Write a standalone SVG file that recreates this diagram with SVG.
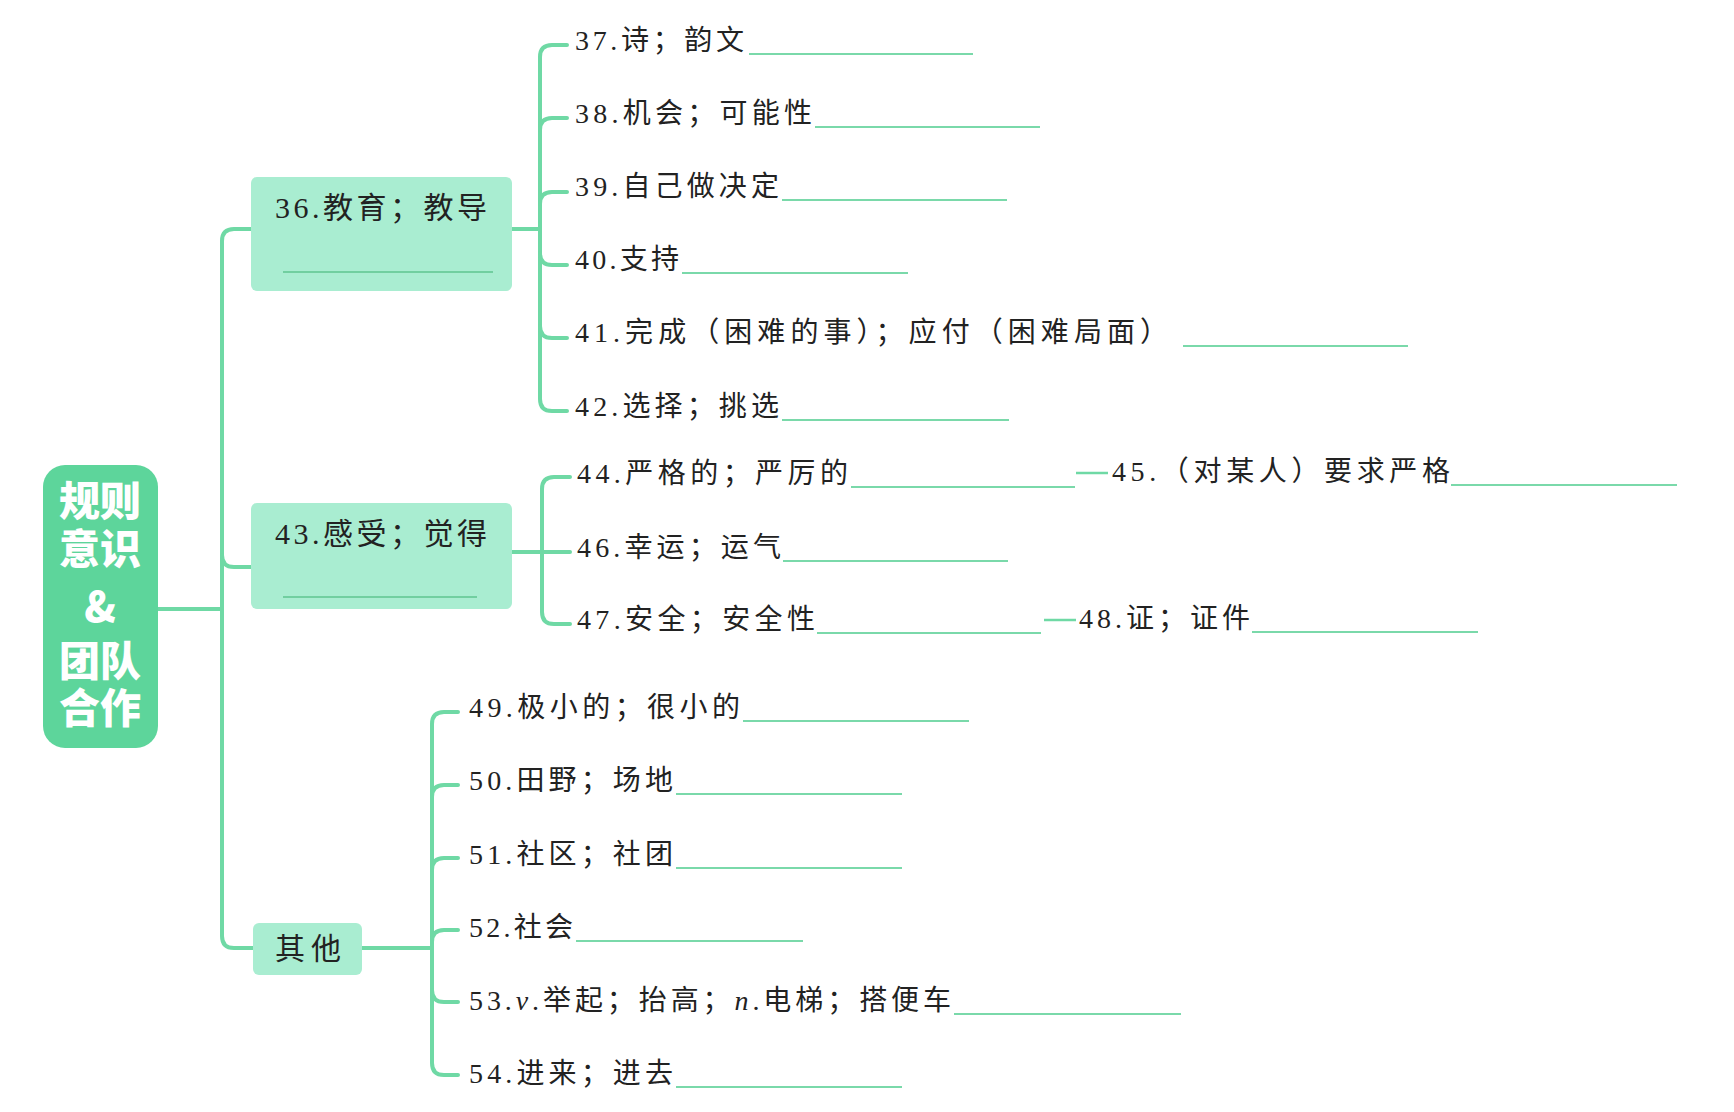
<svg xmlns="http://www.w3.org/2000/svg" width="1734" height="1112" viewBox="0 0 1734 1112">
<style>
.bg{fill:#ffffff}
.line{fill:none;stroke:#6fd9a5;stroke-width:4;stroke-linecap:round}
.dash{fill:none;stroke:#6fd9a5;stroke-width:2.5}
.ul{fill:none;stroke:#7ad9aa;stroke-width:2}
.bul{fill:none;stroke:#5fc48f;stroke-width:1.5}
.box{fill:#a9edd1}
.root{fill:#5dd59b}
.t{font-family:"Liberation Serif","Noto Sans CJK SC",serif;font-size:28px;fill:#222222}
.bt{font-family:"Liberation Serif","Noto Sans CJK SC",serif;font-size:30px;fill:#222222}
.rt{font-family:"Noto Sans CJK SC","Noto Sans",sans-serif;font-size:41px;font-weight:900;fill:#ffffff;text-anchor:middle}
.i{font-style:italic}
</style>
<rect class="bg" x="0" y="0" width="1734" height="1112"/>

<g id="connectors">
  <path class="line" d="M158 609 H222"/>
  <path class="line" d="M251 229 H234 Q222 229 222 241 V936 Q222 948 234 948 H253"/>
  <path class="line" d="M222 555 Q222 567 234 567 H251"/>
  <path class="line" d="M511 229 H540"/>
  <path class="line" d="M567 45 H552 Q540 45 540 57 V399 Q540 411 552 411 H567"/>
  <path class="line" d="M540 130 Q540 118 552 118 H567"/>
  <path class="line" d="M540 204 Q540 192 552 192 H567"/>
  <path class="line" d="M540 253 Q540 265 552 265 H567"/>
  <path class="line" d="M540 326 Q540 338 552 338 H567"/>
  <path class="line" d="M512 552 H570"/>
  <path class="line" d="M570 477 H554 Q542 477 542 489 V612 Q542 624 554 624 H570"/>
  <path class="dash" d="M1076 473 H1108"/>
  <path class="dash" d="M1044 620 H1076"/>
  <path class="line" d="M362 948 H432"/>
  <path class="line" d="M458 712 H444 Q432 712 432 724 V1063 Q432 1075 444 1075 H458"/>
  <path class="line" d="M432 797 Q432 785 444 785 H458"/>
  <path class="line" d="M432 870 Q432 858 444 858 H458"/>
  <path class="line" d="M432 942 Q432 930 444 930 H458"/>
  <path class="line" d="M432 990 Q432 1002 444 1002 H458"/>
</g>

<g id="root">
  <rect class="root" x="43" y="465" width="115" height="283" rx="22"/>
  <text class="rt"><tspan x="100" y="516">规则</tspan><tspan x="100" y="564">意识</tspan><tspan x="100" y="622">&amp;</tspan><tspan x="100" y="676">团队</tspan><tspan x="100" y="723">合作</tspan></text>
</g>

<g id="n36">
  <rect class="box" x="251" y="177" width="261" height="114" rx="6"/>
  <text class="bt" x="275" y="218" textLength="212" lengthAdjust="spacing">36.教育；教导</text>
  <path class="bul" d="M283 272 H493"/>
</g>
<g id="n43">
  <rect class="box" x="251" y="503" width="261" height="106" rx="6"/>
  <text class="bt" x="275" y="544" textLength="212" lengthAdjust="spacing">43.感受；觉得</text>
  <path class="bul" d="M283 597 H477"/>
</g>
<g id="nother">
  <rect class="box" x="253" y="923" width="109" height="52" rx="6"/>
  <text class="bt" x="275" y="959" textLength="66" lengthAdjust="spacing">其他</text>
</g>

<g id="n37"><text class="t" x="575" y="50" textLength="169" lengthAdjust="spacing">37.诗；韵文</text><path class="ul" d="M749 54 H973"/></g>
<g id="n38"><text class="t" x="575" y="123" textLength="237" lengthAdjust="spacing">38.机会；可能性</text><path class="ul" d="M815 127 H1040"/></g>
<g id="n39"><text class="t" x="575" y="196" textLength="204" lengthAdjust="spacing">39.自己做决定</text><path class="ul" d="M782 200 H1007"/></g>
<g id="n40"><text class="t" x="575" y="269" textLength="104" lengthAdjust="spacing">40.支持</text><path class="ul" d="M682 273 H908"/></g>
<g id="n41"><text class="t" x="575" y="342" textLength="593" lengthAdjust="spacing">41.完成（困难的事）；应付（困难局面）</text><path class="ul" d="M1183 346 H1408"/></g>
<g id="n42"><text class="t" x="575" y="416" textLength="204" lengthAdjust="spacing">42.选择；挑选</text><path class="ul" d="M782 420 H1009"/></g>

<g id="n44"><text class="t" x="577" y="483" textLength="271" lengthAdjust="spacing">44.严格的；严厉的</text><path class="ul" d="M851 487 H1075"/></g>
<g id="n45"><text class="t" x="1112" y="481" textLength="338" lengthAdjust="spacing">45.（对某人）要求严格</text><path class="ul" d="M1451 485 H1677"/></g>
<g id="n46"><text class="t" x="577" y="557" textLength="204" lengthAdjust="spacing">46.幸运；运气</text><path class="ul" d="M783 561 H1008"/></g>
<g id="n47"><text class="t" x="577" y="629" textLength="238" lengthAdjust="spacing">47.安全；安全性</text><path class="ul" d="M817 633 H1041"/></g>
<g id="n48"><text class="t" x="1079" y="628" textLength="171" lengthAdjust="spacing">48.证；证件</text><path class="ul" d="M1252 632 H1478"/></g>

<g id="n49"><text class="t" x="469" y="717" textLength="271" lengthAdjust="spacing">49.极小的；很小的</text><path class="ul" d="M743 721 H969"/></g>
<g id="n50"><text class="t" x="469" y="790" textLength="204" lengthAdjust="spacing">50.田野；场地</text><path class="ul" d="M676 794 H902"/></g>
<g id="n51"><text class="t" x="469" y="864" textLength="204" lengthAdjust="spacing">51.社区；社团</text><path class="ul" d="M676 868 H902"/></g>
<g id="n52"><text class="t" x="469" y="937" textLength="104" lengthAdjust="spacing">52.社会</text><path class="ul" d="M576 941 H803"/></g>
<g id="n53"><text class="t" x="469" y="1010" textLength="482" lengthAdjust="spacing">53.<tspan class="i">v</tspan>.举起；抬高；<tspan class="i">n</tspan>.电梯；搭便车</text><path class="ul" d="M954 1014 H1181"/></g>
<g id="n54"><text class="t" x="469" y="1083" textLength="204" lengthAdjust="spacing">54.进来；进去</text><path class="ul" d="M676 1087 H902"/></g>
</svg>
